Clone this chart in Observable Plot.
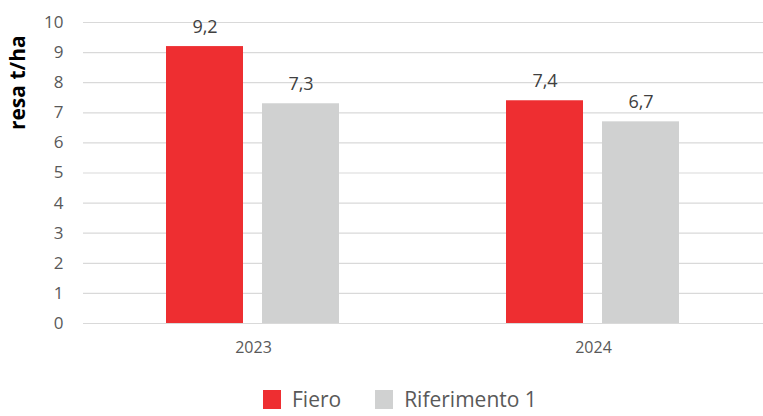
<!DOCTYPE html>
<html>
<head>
<meta charset="utf-8">
<script src="https://cdn.jsdelivr.net/npm/d3@7"></script>
<script src="https://cdn.jsdelivr.net/npm/@observablehq/plot@0.6"></script>
<style>
  body { margin: 0; background: #fff; font-family: "Open Sans", sans-serif; position: relative; width: 763px; height: 416px; overflow: hidden; }
  #legend { position: absolute; left: 263px; top: 388px; display: flex; align-items: center; height: 22px; }
  .item { display: flex; align-items: center; color: #595959; font-size: 21px; line-height: 22px; margin-right: 34px; }
  .sw { width: 18px; height: 19px; margin-right: 11px; }
</style>
</head>
<body>
<div id="chart"></div>
<div id="legend"></div>
<script>
const years = ["2023", "2024"];
const series = ["Fiero", "Riferimento 1"];
const fiero = [9.2, 7.4];
const riferimento = [7.3, 6.7];
const colors = ["#EE2E31", "#D0D1D1"];
const yTicks = [0, 1, 2, 3, 4, 5, 6, 7, 8, 9, 10];

const data = [];
years.forEach((y, i) => {
  data.push({year: y, series: series[0], value: fiero[i]});
  data.push({year: y, series: series[1], value: riferimento[i]});
});

const fmt = v => v.toFixed(1).replace(".", ",");

const chart = Plot.plot({
  width: 763,
  height: 370,
  marginLeft: 83,
  marginRight: 0,
  marginTop: 22,
  marginBottom: 47,
  style: {fontFamily: "'Open Sans', sans-serif", background: "#fff"},
  fx: {domain: years, padding: 0, label: null},
  x: {domain: series, paddingInner: 0.196, paddingOuter: 0.856, axis: null},
  y: {domain: [0, 10], ticks: yTicks, label: null},
  color: {domain: series, range: colors},
  marks: [
    Plot.gridY(yTicks, {stroke: "#D9D9D9", strokeOpacity: 1, strokeWidth: 1.2}),
    Plot.axisY(yTicks, {tickSize: 0, tickPadding: 20, fontSize: 17, fill: "#595959", label: null}),
    Plot.axisFx({anchor: "bottom", tickSize: 0, tickPadding: 18, fontSize: 16, fill: "#595959", label: null}),
    Plot.barY(data, {fx: "year", x: "series", y: "value", fill: "series"}),
    Plot.text(data, {fx: "year", x: "series", y: "value", text: d => fmt(d.value), lineAnchor: "bottom", dy: -14, fontSize: 18, fill: "#404040"}),
    Plot.text(["resa t/ha"], {y: [8.0], frameAnchor: "left", dx: -65, rotate: -90, facetAnchor: "left", fontSize: 21, fontWeight: "bold", fill: "#000", textAnchor: "middle"})
  ]
});
document.getElementById("chart").appendChild(chart);

const legend = document.getElementById("legend");
series.forEach((s, i) => {
  const it = document.createElement("div");
  it.className = "item";
  const sw = document.createElement("div");
  sw.className = "sw";
  sw.style.background = colors[i];
  const t = document.createElement("span");
  t.textContent = s;
  it.appendChild(sw);
  it.appendChild(t);
  legend.appendChild(it);
});
</script>
</body>
</html>
